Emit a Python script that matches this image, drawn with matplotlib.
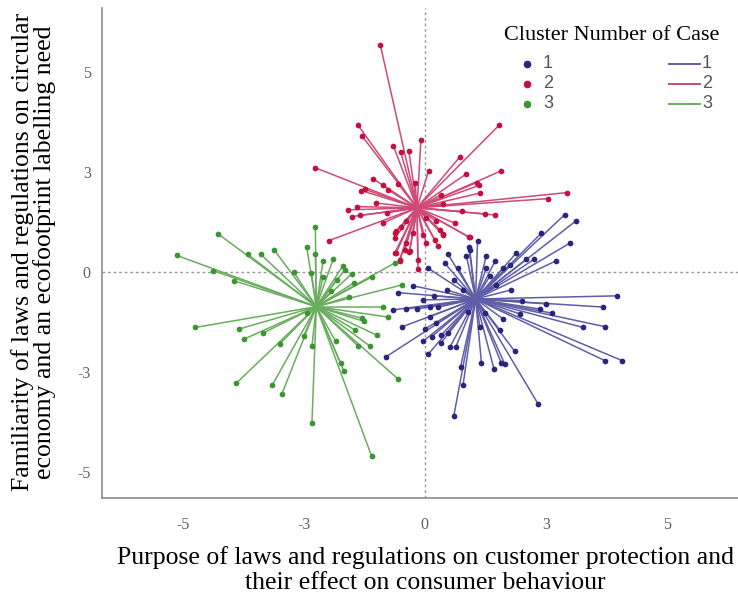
import matplotlib
matplotlib.use("Agg")
import matplotlib.pyplot as plt
from matplotlib.lines import Line2D

# cluster centres (x, y)
centres = {
    "1": (1.05, -0.68),
    "2": (-0.16, 1.60),
    "3": (-2.24, -0.87),
}

# cluster 1 (navy)
c1_x = [3.13, 2.89, 2.41, 3.00, 2.72, 1.89, 2.10, 2.26, 1.09, 0.91, 0.48, 0.86, 1.27,
        1.45, 0.41, 0.07, 0.69, 1.62, 1.76, -0.24, -0.55, 0.45, 1.79, 3.97, 2.00, 2.51,
        3.68, -0.65, -0.38, -0.17, 0.10, 0.28, 2.38, 2.62, 1.96, 0.10, 1.24, 1.62, -0.48,
        0.00, 3.27, 3.72, 0.24, 1.14, 1.55, 0.14, 0.34, 0.48, -0.04, 0.34, 0.52, 0.64,
        1.86, -0.81, 0.07, 3.72, 4.08, 0.74, 1.17, 1.43, 1.58, 1.65, 0.79, 2.34, 0.60,
        1.27, 0.79, 1.48, -0.04, 0.93, 0.60, 1.35, 0.20, 0.90]
c1_y = [1.28, 1.43, 0.97, 0.72, 0.28, 0.47, 0.32, 0.32, 0.77, 0.63, 0.44, 0.40, 0.40,
        0.26, 0.22, 0.09, 0.09, 0.09, 0.18, -0.35, -0.52, -0.45, -0.45, -0.60, -0.72, -0.80,
        -0.88, -0.95, -0.93, -0.93, -0.88, -0.88, -0.93, -1.03, -1.05, -1.12, -1.03, -1.18, -1.38,
        -1.43, -1.39, -1.37, -1.28, -1.38, -1.45, -1.63, -1.58, -1.52, -1.74, -1.77, -1.88, -1.88,
        -1.99, -2.13, -2.06, -2.22, -2.22, -2.37, -2.27, -2.43, -2.28, -2.30, -2.83, -3.30, -3.60,
        0.09, -0.45, -0.33, -0.70, 0.55, -0.20, -0.10, -0.60, -1.00]

# cluster 2 (crimson)
c2_x = [-0.92, -1.38, -1.30, -0.08, -0.65, -0.50, -0.33, 1.54, 0.73, -2.26, 0.08, 1.57,
        0.86, -1.07, -0.55, -0.20, 1.07, 1.12, -0.87, -1.31, -1.23, -0.76, 1.14, 2.93,
        2.55, 0.34, -1.00, -1.41, -1.58, 0.38, -1.51, -1.34, -0.79, 0.76, 1.24, 1.45,
        -0.86, -0.38, 0.03, 0.24, 0.62, -1.98, -0.59, -0.50, 0.31, 0.38, 0.93, -0.62,
        -0.04, 0.03, 0.21, -0.38, -0.41, -0.59, -0.31, -0.14, -0.52, -0.62, -0.52, -0.14,
        0.91, 0.37, 0.27, -0.32, -0.62, -0.24]
c2_y = [5.68, 3.67, 3.40, 3.30, 3.15, 3.00, 3.03, 3.67, 2.88, 2.60, 2.52, 2.52,
        2.45, 2.33, 2.20, 2.22, 2.23, 2.16, 2.17, 2.03, 2.06, 2.05, 1.97, 1.98,
        1.83, 1.93, 1.72, 1.63, 1.55, 1.70, 1.38, 1.41, 1.47, 1.51, 1.45, 1.42,
        1.22, 1.28, 1.34, 1.26, 1.22, 0.78, 1.01, 1.13, 1.05, 0.95, 0.86, 0.84,
        0.92, 0.72, 0.80, 0.72, 0.55, 0.48, 0.51, 0.30, 0.30, 0.47, 0.26, 0.07,
        0.87, 0.93, 0.65, 0.49, 0.97, 0.97]

# cluster 3 (green)
c3_x = [-2.26, -4.27, -5.12, -3.66, -3.39, -3.11, -2.44, -2.26, -2.10, -1.89, -1.69, -1.65,
        -4.37, -3.95, -2.71, -2.34, -2.10, -1.51, -1.08, -0.62, -1.82, -1.47, -0.48, -1.56,
        -1.93, -0.86, -0.76, -1.29, -1.25, -4.74, -3.84, -3.34, -3.73, -2.44, -1.45, -0.98,
        -2.50, -3.00, -2.33, -1.84, -1.38, -1.14, -1.74, -1.67, -3.89, -3.15, -2.95, -0.55,
        -2.33, -1.10]
c3_y = [1.13, 0.95, 0.41, 0.44, 0.44, 0.55, 0.63, 0.45, 0.28, 0.32, 0.15, 0.05,
        0.03, -0.22, 0.00, -0.03, -0.12, -0.05, -0.12, 0.22, -0.20, -0.28, -0.33, -0.62,
        -0.49, -0.87, -1.13, -1.16, -1.24, -1.39, -1.43, -1.53, -1.68, -1.02, -1.45, -1.59,
        -1.60, -1.81, -1.85, -1.74, -1.85, -1.85, -2.28, -2.48, -2.78, -2.83, -3.05, -2.68,
        -3.77, -4.60]

points = {"1": (c1_x, c1_y), "2": (c2_x, c2_y), "3": (c3_x, c3_y)}
dot_colors = {"1": "#2b2580", "2": "#c3103f", "3": "#3b9632"}
line_colors = {"1": "#5f5ea8", "2": "#cf4a74", "3": "#6aad5f"}

tick_pos = [-5, -2.5, 0, 2.5, 5]
tick_labels = ["-5", "-3", "0", "3", "5"]

serif = ["Liberation Serif", "DejaVu Serif"]
sans = ["Liberation Sans", "DejaVu Sans"]

fig = plt.figure(figsize=(7.38, 5.97), dpi=100)
ax = fig.add_axes([0.138, 0.166, 0.862, 0.821])

ax.axhline(0, color="#999999", lw=1, ls=(0, (2, 2)), zorder=1)
ax.axvline(0, color="#999999", lw=1, ls=(0, (2, 2)), zorder=1)

for k in ["1", "2", "3"]:
    cx, cy = centres[k]
    xs, ys = points[k]
    for x, y in zip(xs, ys):
        ax.plot([cx, x], [cy, y], color=line_colors[k], lw=1.1, zorder=2)
    ax.scatter(xs, ys, s=17, color=dot_colors[k], zorder=3, linewidths=0)

ax.set_xlim(-6.67, 6.47)
ax.set_ylim(-5.65, 6.6)
ax.set_xticks(tick_pos)
ax.set_xticklabels(tick_labels, family=serif)
ax.set_yticks(tick_pos)
ax.set_yticklabels(tick_labels, family=serif)
ax.tick_params(length=0, labelsize=11.5, labelcolor="#606060")
ax.tick_params(axis="x", pad=14)
ax.tick_params(axis="y", pad=8)
for s in ["top", "right"]:
    ax.spines[s].set_visible(False)
for s in ["left", "bottom"]:
    ax.spines[s].set_color("#8c8c8c")
    ax.spines[s].set_linewidth(1.2)

ax.set_xlabel("Purpose of laws and regulations on customer protection and\n"
              "their effect on consumer behaviour",
              family=serif, fontsize=18.5, linespacing=1.2)
ax.set_ylabel("Familiarity of laws and regulations on circular\n"
              "economy and an ecofootprint labelling need",
              family=serif, fontsize=18.5, linespacing=0.93)
ax.xaxis.set_label_coords(0.508, -0.098)
ax.yaxis.set_label_coords(-0.072, 0.502)

# legend, drawn by hand: dot column and line column
def fx(px):
    return px / 738


def fy(py):
    return 1 - py / 597


fig.text(fx(612), fy(35), "Cluster Number of Case", family=serif, fontsize=16,
         ha="center", va="center")
rows = [64, 84, 104]
for k, py in zip("123", rows):
    fig.add_artist(Line2D([fx(527)], [fy(py)], ls="", marker="o", ms=4.5,
                          color=dot_colors[k], transform=fig.transFigure))
    fig.text(fx(543), fy(py), k, family=sans, fontsize=13, color="#555555",
             va="center", ha="left")
    fig.add_artist(Line2D([fx(669), fx(700)], [fy(py), fy(py)], lw=1.4,
                          color=line_colors[k], transform=fig.transFigure))
    fig.text(fx(702), fy(py), k, family=sans, fontsize=13, color="#555555",
             va="center", ha="left")

fig.savefig("out.png", dpi=100)
